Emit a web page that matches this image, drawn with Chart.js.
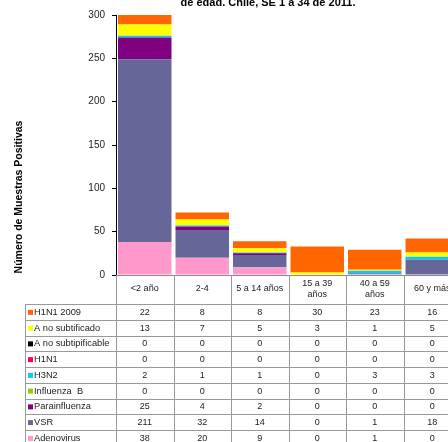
<!DOCTYPE html>
<html>
<head>
  <title>Muestras positivas por edad</title>
  <script src="https://cdn.jsdelivr.net/npm/chart.js@4.4.0/dist/chart.umd.min.js"></script>
  <style>
    html, body { margin: 0; padding: 0; background: #fff; overflow: hidden; }
    #outer { width: 448px; height: 442px; overflow: hidden; position: relative; }
    #myChart { position: absolute; left: 0; top: 0; width: 470px; height: 442px; }
  </style>
</head>
<body>
<div id="outer"><canvas id="myChart" width="470" height="442"></canvas></div>

<script>
// categories (age groups) and the two-line labels shown in the table header
const categories = ['<2 año', '2-4', '5 a 14 años', '15 a 39 años', '40 a 59 años', '60 y más'];
const categoryLines = [['<2 año'], ['2-4'], ['5 a 14 años'], ['15 a 39', 'años'], ['40 a 59', 'años'], ['60 y más']];

// series, in the order of the data table
const seriesNames = ['H1N1 2009', 'A no subtificado', 'A no subtipificable', 'H1N1', 'H3N2',
                     'Influenza  B', 'Parainfluenza', 'VSR', 'Adenovirus'];
const h1n1_2009      = [22, 8, 8, 30, 23, 16];
const aNoSubtificado = [13, 7, 5, 3, 1, 5];
const aNoSubtipif    = [0, 0, 0, 0, 0, 0];
const h1n1           = [0, 0, 0, 0, 0, 0];
const h3n2           = [2, 1, 1, 0, 3, 3];
const influenzaB     = [0, 0, 0, 0, 0, 0];
const parainfluenza  = [25, 4, 2, 0, 0, 0];
const vsr            = [211, 32, 14, 0, 1, 18];
const adenovirus     = [38, 20, 9, 0, 1, 0];
const seriesValues = [h1n1_2009, aNoSubtificado, aNoSubtipif, h1n1, h3n2, influenzaB, parainfluenza, vsr, adenovirus];
const seriesColors = ['#FF6600', '#FFFF00', '#000000', '#FF0066', '#00CCFF', '#99CC00', '#800080', '#666699', '#FF99CC'];

const yTicks = [0, 50, 100, 150, 200, 250, 300];

const FONT = "'Liberation Sans', Arial, sans-serif";
Chart.defaults.font.family = FONT;

// stacked bottom-up: Adenovirus first, H1N1 2009 on top
const datasets = [];
for (let i = seriesNames.length - 1; i >= 0; i--) {
  datasets.push({
    label: seriesNames[i],
    data: seriesValues[i],
    backgroundColor: seriesColors[i],
    borderWidth: 0,
    barPercentage: 0.93,
    categoryPercentage: 1
  });
}

// draws the title, the axis title and the data table under the plot
const tablePlugin = {
  id: 'dataTable',
  afterDraw(chart) {
    const ctx = chart.ctx;
    const area = chart.chartArea;
    const xs = chart.scales.x;
    const n = categories.length;
    const half = (area.right - area.left) / n / 2;
    const top = 304;
    const rowH = 15.75;
    const bottom = chart.height;

    ctx.save();
    // title (first line is cut off by the picture)
    ctx.fillStyle = '#000';
    ctx.font = 'bold 11px ' + FONT;
    ctx.textAlign = 'center';
    ctx.textBaseline = 'alphabetic';
    ctx.fillText('de edad. Chile, SE 1 a 34 de 2011.', 268, 6);

    // y axis title
    ctx.save();
    ctx.translate(19, 197);
    ctx.rotate(-Math.PI / 2);
    ctx.font = 'bold 10.5px ' + FONT;
    ctx.textBaseline = 'middle';
    ctx.fillText('Número de Muestras Positivas', 0, 0);
    ctx.restore();

    // grid of the table
    ctx.strokeStyle = '#999';
    ctx.lineWidth = 1;
    for (let i = 0; i <= n; i++) {
      const x = Math.round(xs.getPixelForValue(i) - half) + 0.5;
      ctx.beginPath();
      ctx.moveTo(x, area.bottom);
      ctx.lineTo(x, bottom);
      ctx.stroke();
    }
    ctx.beginPath();
    ctx.moveTo(25.5, top);
    ctx.lineTo(25.5, bottom);
    ctx.stroke();
    for (let r = 0; r <= seriesNames.length; r++) {
      const y = Math.round(top + r * rowH) + 0.5;
      ctx.beginPath();
      ctx.moveTo(25, y);
      ctx.lineTo(area.right, y);
      ctx.stroke();
    }

    // category labels
    ctx.fillStyle = '#222';
    ctx.font = '9px ' + FONT;
    ctx.textAlign = 'center';
    ctx.textBaseline = 'middle';
    categoryLines.forEach((lines, i) => {
      const cx = xs.getPixelForValue(i);
      if (lines.length === 1) {
        ctx.fillText(lines[0], cx, 289);
      } else {
        ctx.fillText(lines[0], cx, 284);
        ctx.fillText(lines[1], cx, 295);
      }
    });

    // rows: legend key, name, values
    seriesNames.forEach((name, r) => {
      const cy = top + r * rowH + rowH / 2 + 0.5;
      ctx.fillStyle = seriesColors[r];
      ctx.fillRect(28, cy - 2.5, 5, 5);
      ctx.fillStyle = '#222';
      ctx.textAlign = 'left';
      ctx.font = '9.3px ' + FONT;
      ctx.fillText(name, 34, cy);
      ctx.textAlign = 'center';
      ctx.font = '9px ' + FONT;
      seriesValues[r].forEach((v, i) => {
        ctx.fillText(String(v), xs.getPixelForValue(i), cy);
      });
    });
    ctx.restore();
  }
};

new Chart('myChart', {
  type: 'bar',
  data: { labels: categories, datasets: datasets },
  options: {
    responsive: false,
    animation: false,
    devicePixelRatio: 1,
    layout: { padding: { left: 0, top: 15, right: 9, bottom: 0 } },
    plugins: {
      legend: { display: false },
      title: { display: false },
      tooltip: { enabled: false }
    },
    scales: {
      x: {
        stacked: true,
        ticks: { display: false },
        grid: { display: false },
        border: { display: true, color: '#888', width: 1 },
        afterFit: s => { s.height = 167; }
      },
      y: {
        stacked: true,
        min: 0,
        max: 300,
        afterBuildTicks: s => { s.ticks = yTicks.map(v => ({ value: v })); },
        ticks: { color: '#222', font: { size: 10 }, padding: 7 },
        grid: { drawOnChartArea: false, drawTicks: true, tickLength: 4, color: '#000' },
        border: { display: true, color: '#000', width: 1 },
        afterFit: s => { s.width = 116; }
      }
    }
  },
  plugins: [tablePlugin]
});
</script>
</body>
</html>
